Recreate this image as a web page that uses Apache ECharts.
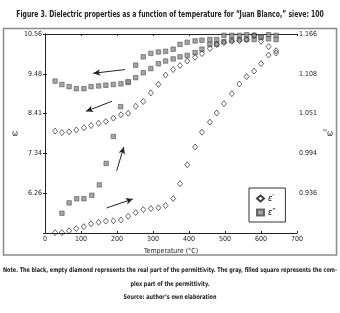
<!DOCTYPE html>
<html><head><meta charset="utf-8">
<script src="https://cdn.jsdelivr.net/npm/echarts@6/dist/echarts.min.js"></script>
<style>html,body{margin:0;padding:0;background:#fff}#c{width:340px;height:313px}</style>
</head><body><div id="c"></div>
<script>
// ---- data ----
const tempHeat = [28,47,67,87,108,128,149,169,190,211,231,252,273,294,315,335,356,375,395,417,436,458,477,497,519,540,560,581,600,621,642];
const epsRealHeat = [5.20,5.20,5.25,5.31,5.36,5.44,5.48,5.51,5.52,5.54,5.64,5.74,5.82,5.85,5.87,5.93,6.12,6.52,7.03,7.51,7.91,8.18,8.43,8.68,8.95,9.21,9.41,9.56,9.76,9.99,10.11];
const tempCool = [642,621,600,581,560,540,519,497,477,458,436,417,395,375,356,335,315,294,273,252,231,211,190,169,149,128,108,87,67,47,28];
const epsRealCool = [10.05,10.22,10.36,10.52,10.41,10.38,10.36,10.33,10.28,10.17,10.03,9.93,9.83,9.71,9.60,9.45,9.20,8.97,8.74,8.61,8.42,8.38,8.29,8.20,8.15,8.09,8.03,7.97,7.92,7.90,7.94];
const tempHeatImag = [47,67,88,108,130,151,170,190,210,231,252,273,294,315,335,356,375,395,417,436,458,477,497,519,540,560,581,600,621,642];
const epsImagHeat = [0.907,0.922,0.928,0.928,0.933,0.948,0.979,1.018,1.061,1.096,1.121,1.133,1.138,1.140,1.141,1.144,1.151,1.154,1.156,1.157,1.158,1.158,1.164,1.164,1.164,1.165,1.164,1.162,1.165,1.164];
const epsImagCool = [1.158,1.159,1.161,1.158,1.158,1.158,1.157,1.155,1.151,1.151,1.144,1.139,1.135,1.133,1.130,1.127,1.123,1.116,1.110,1.103,1.097,1.094,1.093,1.092,1.091,1.090,1.087,1.087,1.090,1.093,1.098];
const leftTicks = ['', '6.26', '7.34', '8.41', '9.48', '10.56'];
const rightTicks = ['', '0.936', '0.994', '1.051', '1.108', '1.166'];
// arrows [startT, startEps', endT, endEps'] in left-axis units
const arrows = [
  [171, 5.865, 244, 6.108],
  [199, 6.87, 219, 7.51],
  [186, 8.745, 114, 8.474],
  [222, 9.60, 134, 9.50]
];
const titleText = 'Figure 3. Dielectric properties as a function of temperature for \u201cJuan Blanco,\u201d sieve: 100';
const noteLine1 = 'Note. The black, empty diamond represents the real part of the permittivity. The gray, filled square represents the com-';
const noteLine2 = 'plex part of the permittivity.';
const sourceLine = 'Source: author\u2019s own elaboration';

const F = "'DejaVu Sans Condensed','Liberation Sans Narrow',sans-serif";
const pair = (xs, ys) => xs.map((x, i) => [x, ys[i]]);
const diamondStyle = {color: 'rgba(255,255,255,0)', borderColor: '#111', borderWidth: 0.8};
const squareStyle = {color: '#8e8e8e', borderColor: '#4a4a4a', borderWidth: 0.7};

const chart = echarts.init(document.getElementById('c'), null, {renderer: 'canvas'});
chart.setOption({
  animation: false,
  backgroundColor: '#fff',
  grid: {left: 45, right: 43, top: 34, bottom: 80},
  legend: {
    left: 249, top: 188, orient: 'vertical', itemWidth: 7, itemHeight: 6, itemGap: 5,
    padding: [6, 10, 5, 7], borderColor: '#333', borderWidth: 1, backgroundColor: '#fff',
    data: [{name: '\u03b5\u2032', icon: 'diamond'}, {name: '\u03b5\u2033', icon: 'rect'}],
    textStyle: {fontFamily: F, fontStyle: 'italic', fontSize: 9, color: '#111', padding: [0, 0, 0, -1]}
  },
  xAxis: [
    {type: 'value', min: 0, max: 700, interval: 100, position: 'bottom',
     name: 'Temperature (\u00b0C)', nameLocation: 'middle', nameGap: 13,
     nameTextStyle: {fontFamily: F, fontSize: 7, color: '#222'},
     axisLine: {lineStyle: {color: '#222', width: 1}}, axisTick: {inside: true, length: 2, lineStyle: {color: '#222'}},
     axisLabel: {fontFamily: F, fontSize: 7, color: '#222', margin: 3}, splitLine: {show: false}},
    {type: 'value', min: 0, max: 700, interval: 100, position: 'top',
     axisLine: {lineStyle: {color: '#222', width: 1}}, axisTick: {inside: true, length: 2, lineStyle: {color: '#222'}},
     axisLabel: {show: false}, splitLine: {show: false}}
  ],
  yAxis: [
    {type: 'value', min: 5.19, max: 10.56, interval: 1.074, position: 'left',
     name: '\u03c9', nameLocation: 'middle', nameRotate: 0, nameGap: 23,
     nameTextStyle: {fontFamily: F, fontSize: 8, color: '#222'},
     axisLine: {lineStyle: {color: '#222', width: 1}}, axisTick: {inside: true, length: 2, lineStyle: {color: '#222'}},
     axisLabel: {fontFamily: F, fontSize: 7, color: '#222', margin: 3,
       formatter: v => leftTicks[Math.round((v - 5.19) / 1.074)] || ''},
     splitLine: {show: false}},
    {type: 'value', min: 0.8785, max: 1.166, interval: 0.0575, position: 'right',
     name: "''\u03c9", nameLocation: 'middle', nameRotate: 0, nameGap: 24,
     nameTextStyle: {fontFamily: F, fontSize: 8, color: '#222'},
     axisLine: {lineStyle: {color: '#222', width: 1}}, axisTick: {inside: true, length: 2, lineStyle: {color: '#222'}},
     axisLabel: {fontFamily: F, fontSize: 7, color: '#222', margin: 2,
       formatter: v => rightTicks[Math.round((v - 0.8785) / 0.0575)] || ''},
     splitLine: {show: false}}
  ],
  series: [
    {name: '\u03b5\u2033', type: 'scatter', yAxisIndex: 1, symbol: 'rect', symbolSize: 4.5, itemStyle: squareStyle,
     data: pair(tempHeatImag, epsImagHeat)},
    {name: '\u03b5\u2033', type: 'scatter', yAxisIndex: 1, symbol: 'rect', symbolSize: 4.5, itemStyle: squareStyle,
     data: pair(tempCool, epsImagCool)},
    {name: '\u03b5\u2032', type: 'scatter', yAxisIndex: 0, symbol: 'diamond', symbolSize: [5, 6], itemStyle: diamondStyle,
     data: pair(tempHeat, epsRealHeat),
     markLine: {silent: true, symbol: ['none', 'arrow'], symbolSize: [5, 7], label: {show: false},
       lineStyle: {color: '#222', width: 1, type: 'solid'},
       data: arrows.map(a => [{coord: [a[0], a[1]]}, {coord: [a[2], a[3]]}])}},
    {name: '\u03b5\u2032', type: 'scatter', yAxisIndex: 0, symbol: 'diamond', symbolSize: [5, 6], itemStyle: diamondStyle,
     data: pair(tempCool, epsRealCool)}
  ],
  graphic: [
    {type: 'rect', shape: {x: 3.5, y: 28.5, width: 333, height: 226.5}, style: {fill: 'none', stroke: '#8a8a8a', lineWidth: 1.5}, silent: true, z: -1},
    {type: 'text', x: 170, y: 10, scaleX: 0.8, style: {text: titleText, textAlign: 'center', font: "bold 8.5px " + F, fill: '#222'}},
    {type: 'text', x: 170, y: 267, scaleX: 0.84, style: {text: noteLine1, textAlign: 'center', font: "bold 6.5px " + F, fill: '#222'}},
    {type: 'text', x: 170, y: 281, scaleX: 0.84, style: {text: noteLine2, textAlign: 'center', font: "bold 6.5px " + F, fill: '#222'}},
    {type: 'text', x: 170, y: 294, scaleX: 0.84, style: {text: sourceLine, textAlign: 'center', font: "bold 6.5px " + F, fill: '#222'}}
  ]
});
</script></body></html>
